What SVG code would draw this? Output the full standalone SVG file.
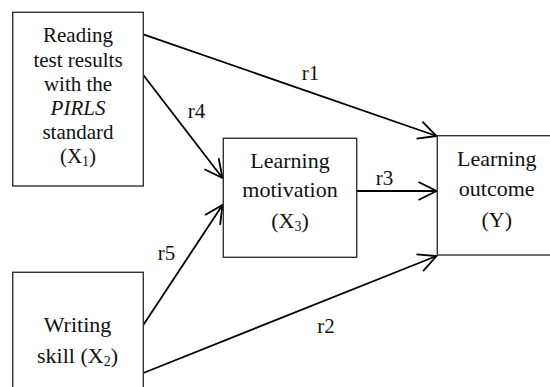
<svg xmlns="http://www.w3.org/2000/svg" width="550" height="387" viewBox="0 0 550 387">
<defs>
<marker id="arr" markerUnits="userSpaceOnUse" viewBox="-20 -11 22 22" refX="0" refY="0" markerWidth="22" markerHeight="22" orient="auto" overflow="visible">
<path d="M-18,-9 L0,0 L-18,9" fill="none" stroke="#000" stroke-width="1.8" stroke-linejoin="miter"/>
</marker>
<style>
.box{fill:#fff;stroke:#333;stroke-width:1.4}
.t{font-size:22px;fill:#111;text-anchor:middle}
.t1{font-size:21px}
.sub{font-size:14px}
.lbl{font-size:21px;fill:#111;text-anchor:middle}
.c{stroke:#000;stroke-width:1.8;fill:none;marker-end:url(#arr)}
</style>
</defs>
<rect width="550" height="387" fill="#fff"/>
<g font-family="Liberation Serif, DejaVu Serif, Times New Roman, serif">
<g id="connectors">
<line class="c" x1="143.3" y1="34.3" x2="436.5" y2="136"/>
<line class="c" x1="143.3" y1="75" x2="222.5" y2="178"/>
<line class="c" x1="143.3" y1="325" x2="222.5" y2="205"/>
<line class="c" x1="356.7" y1="191" x2="436.5" y2="191"/>
<line class="c" x1="143.3" y1="373" x2="436.5" y2="256"/>
<text class="lbl" x="310.5" y="79.5">r1</text>
<text class="lbl" x="196.5" y="118.3">r4</text>
<text class="lbl" x="384.5" y="185">r3</text>
<text class="lbl" x="166.5" y="260">r5</text>
<text class="lbl" x="326" y="333.3">r2</text>
</g>
<g id="x1">
<rect class="box" x="12.7" y="12.3" width="130.6" height="173.7"/>
<text class="t t1" x="78" y="41.7">Reading</text>
<text class="t t1" x="78" y="66.5">test results</text>
<text class="t t1" x="78" y="90.7">with the</text>
<text class="t t1" x="78" y="115" font-style="italic">PIRLS</text>
<text class="t t1" x="78" y="139.3">standard</text>
<text class="t t1" x="78" y="163.3">(X<tspan class="sub" dy="3">1</tspan><tspan dy="-3">)</tspan></text>
</g>
<g id="x3">
<rect class="box" x="223.3" y="138.3" width="133.4" height="119"/>
<text class="t" x="290" y="168">Learning</text>
<text class="t" x="290" y="197.3">motivation</text>
<text class="t" x="290" y="227.5">(X<tspan class="sub" dy="3">3</tspan><tspan dy="-3">)</tspan></text>
</g>
<g id="y">
<rect class="box" x="437.3" y="135.7" width="130" height="119.3"/>
<text class="t" x="496.7" y="165.7">Learning</text>
<text class="t" x="496.7" y="196">outcome</text>
<text class="t" x="496.7" y="226.7">(Y)</text>
</g>
<g id="x2">
<rect class="box" x="12.7" y="272.3" width="130.6" height="130"/>
<text class="t" x="77.5" y="331.7">Writing</text>
<text class="t" x="77.5" y="363">skill (X<tspan class="sub" dy="3">2</tspan><tspan dy="-3">)</tspan></text>
</g>
</g>
</svg>
